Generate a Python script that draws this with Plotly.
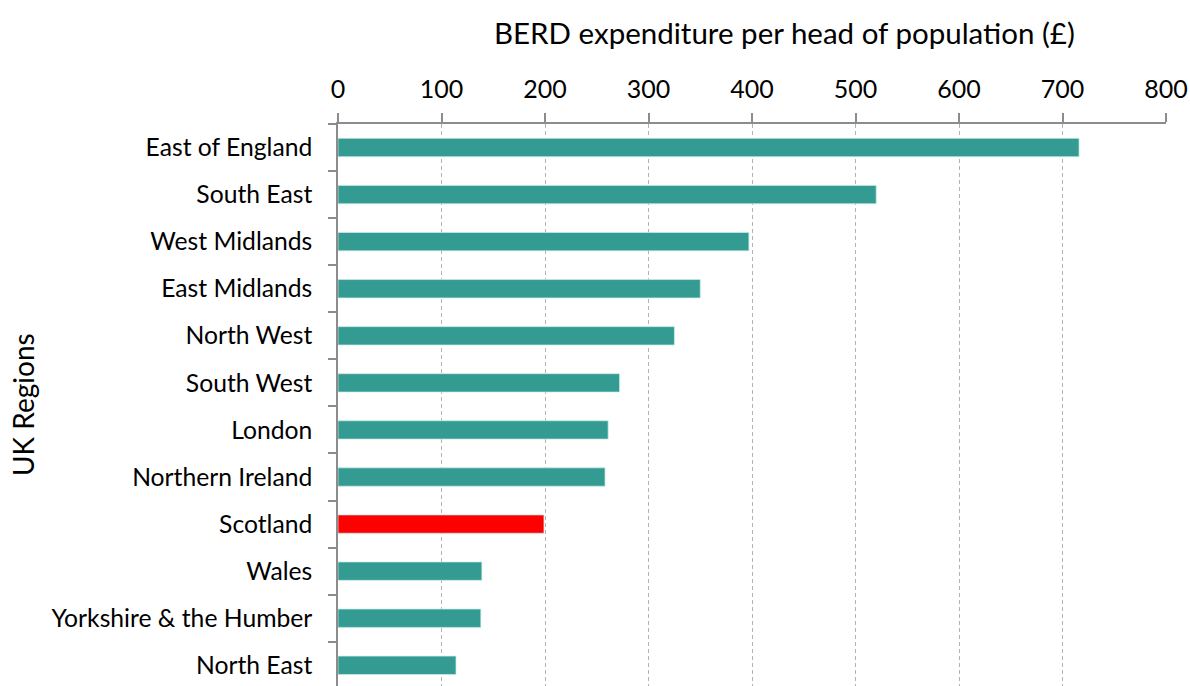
import plotly.graph_objects as go

regions = ["East of England", "South East", "West Midlands", "East Midlands", "North West",
           "South West", "London", "Northern Ireland", "Scotland", "Wales",
           "Yorkshire & the Humber", "North East"]
values = [716, 520, 397, 350, 325, 272, 261, 258, 199, 139, 138, 114]
highlight = "Scotland"
x_ticks = [0, 100, 200, 300, 400, 500, 600, 700, 800]

TEAL = "#349b92"
RED = "#ff0000"
colors = [RED if r == highlight else TEAL for r in regions]
FONT = "Lato, 'Open Sans', sans-serif"

fig = go.Figure(go.Bar(
    x=values, y=regions, orientation="h",
    marker=dict(color=colors, line=dict(color="rgba(200,235,232,0.9)", width=0.8)),
    width=0.39,
))

fig.update_layout(
    width=1190, height=686,
    margin=dict(l=338, r=24, t=124, b=0, autoexpand=False),
    paper_bgcolor="white", plot_bgcolor="white",
    font=dict(family=FONT, size=24, color="#000"),
    showlegend=False,
)
fig.update_xaxes(
    side="top", range=[0, 800], tickvals=x_ticks, ticktext=[str(v) for v in x_ticks],
    showline=True, linecolor="#8c8c8c", linewidth=1.5,
    ticks="outside", ticklen=9, tickcolor="#8c8c8c", tickwidth=1.5,
    showgrid=True, gridcolor="#b3b3b3", griddash="4px,3px", gridwidth=1.4,
    zeroline=False, tickfont=dict(size=25), ticklabelstandoff=5, automargin=False,
)
fig.update_yaxes(
    categoryorder="array", categoryarray=regions, range=[11.44, -0.5],
    showline=True, linecolor="#8c8c8c", linewidth=1.5,
    ticks="outside", ticklen=8, tickcolor="#8c8c8c", tickwidth=1.5, tickson="boundaries",
    showgrid=False, zeroline=False, tickfont=dict(size=24.7), ticklabelstandoff=19,
    automargin=False,
)
fig.add_annotation(
    text="BERD expenditure per head of population (£)", xref="paper", yref="paper",
    x=(784 - 338) / (1166 - 338), y=1, yshift=92, xanchor="center", yanchor="middle",
    showarrow=False, font=dict(size=29.5, family=FONT),
)
fig.add_annotation(
    text="UK Regions", xref="paper", yref="paper",
    x=0, xshift=-(338 - 23), y=(686 - 405) / (686 - 124), xanchor="center", yanchor="middle",
    textangle=-90, showarrow=False, font=dict(size=28, family=FONT),
)

fig.write_html("out.html", config={"displayModeBar": False})
with open("out.html", encoding="utf-8") as f:
    html = f.read()
html = html.replace("<head>", "<head><style>html,body{margin:0;padding:0;overflow:hidden}</style>", 1)
with open("out.html", "w", encoding="utf-8") as f:
    f.write(html)
